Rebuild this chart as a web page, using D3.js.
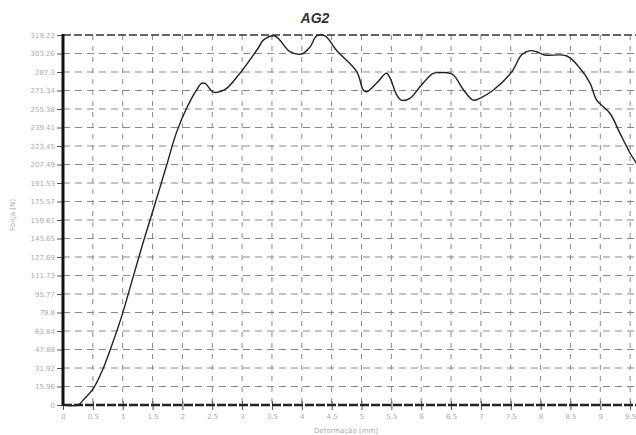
<!DOCTYPE html>
<html><head><meta charset="utf-8">
<script src="https://cdn.jsdelivr.net/npm/d3@7"></script>
<style>body{margin:0;background:#fff}svg{display:block}</style>
</head><body>
<svg id="c" width="636" height="435"></svg>
<script>
const title = "AG2";
const xLabel = "Deformação [mm]";
const yLabel = "Força [N]";
const xTicks = [0,0.5,1,1.5,2,2.5,3,3.5,4,4.5,5,5.5,6,6.5,7,7.5,8,8.5,9,9.5];
const yTickLabels = ["0","15.96","31.92","47.88","63.84","79.8","95.77","111.73","127.69","143.65","159.61","175.57","191.53","207.49","223.45","239.41","255.38","271.34","287.3","303.26","319.22"];
const dispX = [0,0.25,0.35,0.51,0.66,0.80,0.98,1.15,1.33,1.52,1.72,1.90,2.07,2.24,2.32,2.38,2.52,2.71,2.96,3.13,3.27,3.36,3.55,3.80,4.0,4.14,4.25,4.39,4.58,4.92,5.03,5.09,5.25,5.42,5.48,5.59,5.67,5.81,5.98,6.20,6.31,6.43,6.54,6.71,6.87,6.98,7.21,7.52,7.68,7.82,7.93,8.07,8.44,8.66,8.83,8.94,9.16,9.33,9.50,9.60,9.65];
const forceY = [0,0,5,14.4,30,49,76,106,138,170,204,235,256,272,277.5,277.5,270,272,286,297.7,308,315,318.4,304.8,302.8,309,318.4,318.4,306,287.6,271.8,270.3,277.5,286.2,282,267.5,263,264.6,274.6,286.2,286.7,286.7,284.7,271.8,263,264.6,271.8,287.6,302,305.7,304.8,302,301.1,290.5,277.5,263,251.7,234.4,217.2,209,205];

const svg = d3.select("#c");
const L=63, R=636, T=35, B=405;
const x = d3.scaleLinear().domain([0,9.6]).range([L, L + 9.6*59.7]);
const yMax = 319.22;
const y = d3.scaleLinear().domain([0,yMax]).range([B,T]);
const yTicks = yTickLabels.map(Number);

const defs = svg.append("defs");
defs.append("clipPath").attr("id","clip").append("rect").attr("x",L).attr("y",T-2).attr("width",R-L).attr("height",B-T+4);

// grid
const g = svg.append("g");
g.selectAll(".hg").data(yTicks.slice(1,-1)).enter().append("line")
 .attr("x1",L).attr("x2",R).attr("y1",d=>y(d)).attr("y2",d=>y(d))
 .attr("stroke","#888").attr("stroke-width",1).attr("stroke-dasharray","7,5");
g.selectAll(".vg").data(xTicks.slice(1)).enter().append("line")
 .attr("x1",d=>x(d)).attr("x2",d=>x(d)).attr("y1",T).attr("y2",B)
 .attr("stroke","#888").attr("stroke-width",1).attr("stroke-dasharray","5,6");
// top border
svg.append("line").attr("x1",L).attr("x2",R).attr("y1",T).attr("y2",T)
 .attr("stroke","#333").attr("stroke-width",1.5).attr("stroke-dasharray","8,3");

// axes
const yAxis = d3.axisLeft(y).tickValues(yTicks).tickFormat((d,i)=>yTickLabels[i]).tickSize(6).tickPadding(2);
const ya = svg.append("g").attr("transform",`translate(${L},0)`).call(yAxis);
ya.select(".domain").remove();
ya.selectAll(".tick line").attr("stroke","#555");
ya.selectAll(".tick text").attr("fill","#aaa").style("font","7px 'DejaVu Sans', sans-serif");

const xAxis = d3.axisBottom(x).tickValues(xTicks).tickFormat(d=>String(d)).tickSize(5).tickPadding(4);
const xa = svg.append("g").attr("transform",`translate(0,${B})`).call(xAxis);
xa.select(".domain").remove();
xa.selectAll(".tick line").attr("stroke","#555").attr("y1",-4);
xa.selectAll(".tick text").attr("fill","#aaa").style("font","7px 'DejaVu Sans', sans-serif");

svg.append("line").attr("x1",L).attr("x2",R).attr("y1",B).attr("y2",B)
 .attr("stroke","#222").attr("stroke-width",2.5).attr("stroke-dasharray","9,2");
svg.append("line").attr("x1",L).attr("x2",L).attr("y1",T-1).attr("y2",B+1)
 .attr("stroke","#111").attr("stroke-width",3);

// curve
const data = dispX.map((d,i)=>[d, forceY[i]]);
svg.append("path").datum(data).attr("clip-path","url(#clip)")
 .attr("d", d3.line().x(d=>x(d[0])).y(d=>y(d[1])).curve(d3.curveCatmullRom.alpha(0.5)))
 .attr("fill","none").attr("stroke","#222").attr("stroke-width",1.4);

// texts
svg.append("text").attr("x",315).attr("y",23).attr("text-anchor","middle")
 .style("font","italic bold 14px 'Liberation Sans', Arial, sans-serif").attr("fill","#333").text(title);
svg.append("text").attr("transform","translate(15,215) rotate(-90)").attr("text-anchor","middle")
 .style("font","7px 'DejaVu Sans', sans-serif").attr("fill","#aaa").text(yLabel);
svg.append("text").attr("x",346).attr("y",433).attr("text-anchor","middle")
 .style("font","7px 'DejaVu Sans', sans-serif").attr("fill","#aaa").text(xLabel);
</script>
</body></html>
